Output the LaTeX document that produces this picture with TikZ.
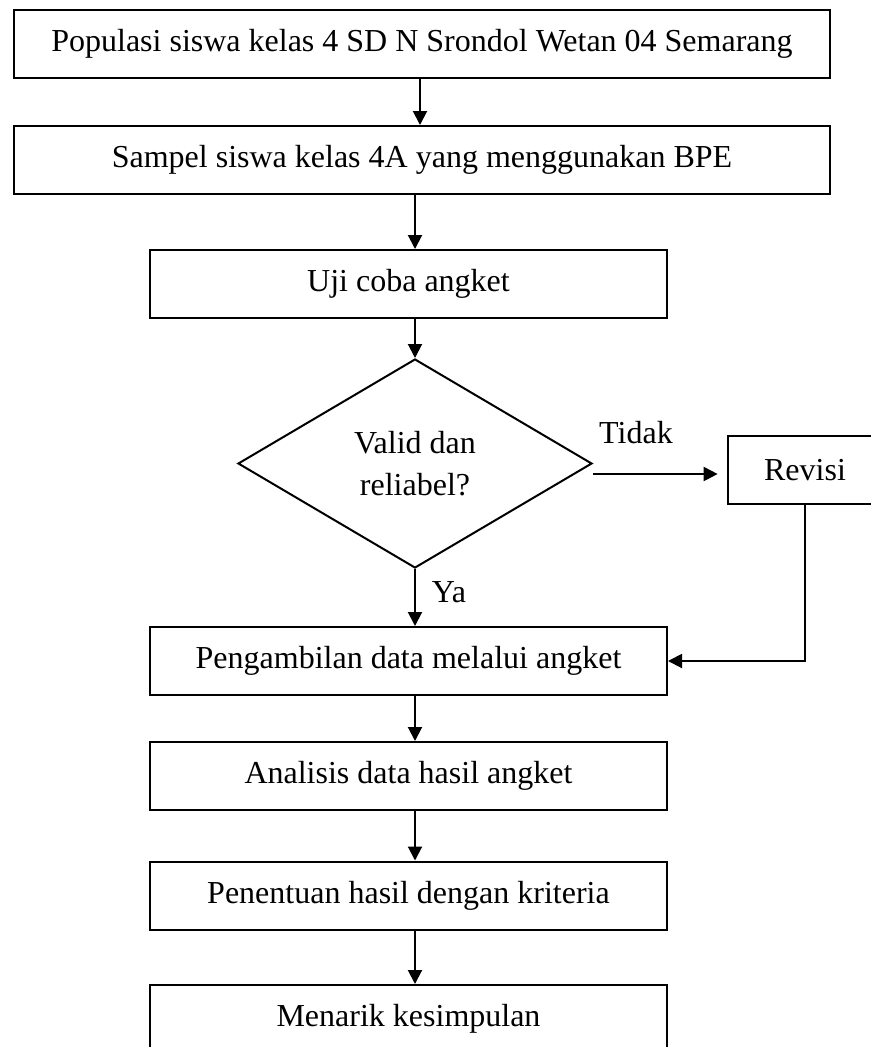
\documentclass[tikz,border=0pt]{standalone}
\usepackage{fontspec}
\setmainfont{Liberation Serif}
\usetikzlibrary{arrows.meta,shapes.geometric,calc}
\begin{document}
\begin{tikzpicture}[x=0.75pt,y=-0.75pt,
  font=\fontsize{24pt}{31.5pt}\selectfont,
  line width=1.5pt,
  wide/.style={draw,rectangle,minimum width=612pt,minimum height=51pt,inner sep=0pt},
  stepbox/.style={draw,rectangle,minimum width=387.75pt,minimum height=51pt,inner sep=0pt},
  arr/.style={-{Triangle[length=10.5pt,width=10.5pt]}},
  lbl/.style={anchor=base,inner sep=0pt}]
\useasboundingbox (0,0) rectangle (871,1047);
\node[wide] (b1) at (422,44) {Populasi siswa kelas 4 SD N Srondol Wetan 04 Semarang};
\node[wide] (b2) at (422,160) {Sampel siswa kelas 4A yang menggunakan BPE};
\node[stepbox] (b3) at (408.5,284) {Uji coba angket};
\node[draw,diamond,minimum width=265.5pt,minimum height=156.75pt,inner sep=0pt,align=center] (d) at (415,463.5) {Valid dan\\reliabel?};
\node[draw,rectangle,minimum width=115.5pt,minimum height=51pt,inner sep=0pt] (r) at (805,470) {Revisi};
\node[stepbox] (b4) at (408.5,661) {Pengambilan data melalui angket};
\node[stepbox] (b5) at (408.5,776) {Analisis data hasil angket};
\node[stepbox] (b6) at (408.5,895.5) {Penentuan hasil dengan kriteria};
\node[stepbox] (b7) at (408.5,1019) {Menarik kesimpulan};
\node[lbl] (tidak) at (636,443) {Tidak};
\node[lbl] (ya) at (449,602) {Ya};
\coordinate (ax) at (420,0);
\coordinate (bx) at (415,0);
\draw[arr] (b1.south -| ax) -- (b2.north -| ax);
\draw[arr] (b2.south -| bx) -- (b3.north -| bx);
\draw[arr] (b3.south -| bx) -- (d.north);
\draw[arr,shorten >=7pt] ($(d.east |- r.west)+(0,4)$) -- ($(r.west)+(0,4)$);
\draw[arr] (d.south) -- (b4.north -| bx);
\draw[arr] (r.south) -- (r.south |- b4.east) -- (b4.east);
\draw[arr] (b4.south -| bx) -- (b5.north -| bx);
\draw[arr] (b5.south -| bx) -- (b6.north -| bx);
\draw[arr] (b6.south -| bx) -- (b7.north -| bx);
\end{tikzpicture}
\end{document}
